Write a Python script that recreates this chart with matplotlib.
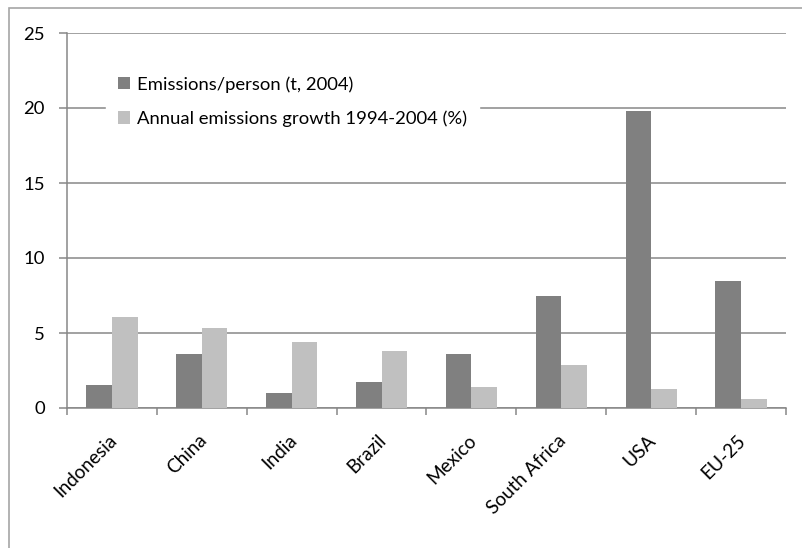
import numpy as np
import matplotlib
matplotlib.use('Agg')
import matplotlib.pyplot as plt
import matplotlib.patches as mplpatches
import matplotlib.transforms as mtransforms

plt.rcParams['font.family'] = ['Lato', 'DejaVu Sans']

countries = ['Indonesia', 'China', 'India', 'Brazil', 'Mexico',
             'South Africa', 'USA', 'EU-25']
per_person = [1.55, 3.6, 1.0, 1.75, 3.6, 7.5, 19.8, 8.5]
growth = [6.05, 5.35, 4.4, 3.8, 1.4, 2.85, 1.25, 0.6]
label_person = 'Emissions/person (t, 2004)'
label_growth = 'Annual emissions growth 1994-2004 (%)'
y_ticks = [0, 5, 10, 15, 20, 25]

dark = '#808080'
light = '#c0c0c0'
grid_col = '#878787'
fs = 13.3

fig_w, fig_h = 8.02, 5.48
fig = plt.figure(figsize=(fig_w, fig_h), dpi=100)

# outer chart border (only top and left are inside the picture)
border = mplpatches.Rectangle((9 / 802, -0.1), 1.2, (548 - 8) / 548 + 0.1,
                              transform=fig.transFigure, fill=False,
                              edgecolor='#a6a6a6', linewidth=1.2)
fig.patches.append(border)

# plot area in pixels: x 67..786, y 33..408
ax = fig.add_axes([67 / 802, 1 - 408 / 548, (786 - 67) / 802, (408 - 33) / 548])

x = np.arange(len(countries))
bw = 1 / 3.5
ax.bar(x - bw / 2, per_person, bw, color=dark, label=label_person, zorder=3)
ax.bar(x + bw / 2, growth, bw, color=light, label=label_growth, zorder=3)

ax.set_xlim(-0.5, len(countries) - 0.5)
ax.set_ylim(0, 25)
ax.set_yticks(y_ticks)
ax.set_yticklabels([str(v) for v in y_ticks], fontsize=fs)
ax.yaxis.grid(True, color=grid_col, linewidth=1.1, zorder=0)
ax.set_axisbelow(True)

# category ticks on the boundaries, labels at centers
ax.set_xticks(np.arange(len(countries) + 1) - 0.5)
ax.set_xticklabels([])
ax.set_xticks(x, minor=True)
ax.set_xticklabels(countries, minor=True, rotation=45, ha='right',
                   rotation_mode='anchor', fontsize=fs + 0.4)
ax.tick_params(axis='x', which='minor', length=0, pad=17)
ax.tick_params(axis='x', which='major', length=5, color=grid_col, width=1.1)
ax.tick_params(axis='y', length=6, color=grid_col, width=1.1, pad=10)
shift = mtransforms.ScaledTranslation(-4 / 100, 0, fig.dpi_scale_trans)
for lab in ax.get_xticklabels(minor=True):
    lab.set_transform(lab.get_transform() + shift)

for s in ['top', 'right']:
    ax.spines[s].set_visible(False)
for s in ['left', 'bottom']:
    ax.spines[s].set_color(grid_col)
    ax.spines[s].set_linewidth(1.1)

leg = ax.legend(loc='upper left', bbox_to_anchor=(30 / 719, 1 - 22 / 375),
                frameon=True, fancybox=False, framealpha=1, edgecolor='white',
                fontsize=fs, handlelength=0.65, handleheight=0.65,
                handletextpad=0.35, labelspacing=0.95, borderpad=0.65)
leg.set_zorder(5)

fig.savefig('out.png', dpi=100)
